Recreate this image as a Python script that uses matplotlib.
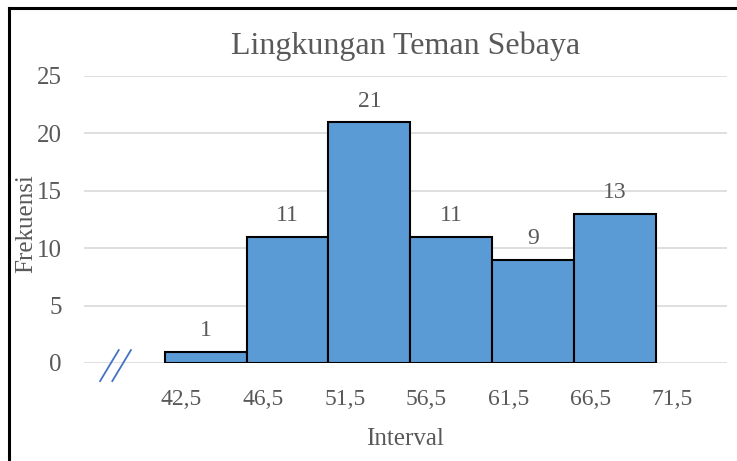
import matplotlib.pyplot as plt
from matplotlib.lines import Line2D

# class boundaries and frequencies
boundaries = ['42,5', '46,5', '51,5', '56,5', '61,5', '66,5', '71,5']
frekuensi = [1, 11, 21, 11, 9, 13]
y_ticks = [0, 5, 10, 15, 20, 25]

plt.rcParams['font.family'] = ['Liberation Serif', 'DejaVu Serif']
grey = '#595959'

fig = plt.figure(figsize=(7.37, 4.61), dpi=100)
ax = fig.add_axes([0.114, 0.2126, 0.872, 0.6226])

xpos = range(len(frekuensi))
bars = ax.bar(xpos, frekuensi, width=1.0, align='edge', color='#5B9BD5',
              edgecolor='black', linewidth=1.5, zorder=3)
for x, v in zip(xpos, frekuensi):
    ax.text(x + 0.5, v + 0.9, str(v), ha='center', va='bottom',
            fontsize=17, color=grey)

ax.set_xlim(-0.99, 6.87)
ax.set_ylim(0, 25)
ax.set_yticks(y_ticks)
ax.set_yticklabels([str(t) for t in y_ticks], fontsize=18, color=grey)
ax.yaxis.grid(True, color='#D9D9D9', linewidth=1.2, zorder=0)
ax.tick_params(axis='y', length=0, pad=16)

ax.set_xticks([i + 0.2 for i in range(len(boundaries))])
ax.set_xticklabels(boundaries, fontsize=17, color=grey)
ax.tick_params(axis='x', length=0, pad=19)

for s in ax.spines.values():
    s.set_visible(False)

ax.set_title('Lingkungan Teman Sebaya', fontsize=23, color=grey, pad=16)
ax.set_xlabel('Interval', fontsize=18, color=grey, labelpad=13)
fig.text(0.036, 0.515, 'Frekuensi', rotation=90, ha='center', va='center',
         fontsize=18, color=grey)

# axis break mark
for dx in (0.0, 0.019):
    ax.plot([0.025 + dx, 0.054 + dx], [-0.063, 0.045], color='#4472C4',
            linewidth=1.3, transform=ax.transAxes, clip_on=False)

# frame of the screenshot (left and top only)
fig.add_artist(Line2D([0.0125, 0.0125], [0, 0.983], color='black', linewidth=2.2))
fig.add_artist(Line2D([0.0125, 1.0], [0.983, 0.983], color='black', linewidth=2.2))

fig.savefig('out.png', dpi=100)
